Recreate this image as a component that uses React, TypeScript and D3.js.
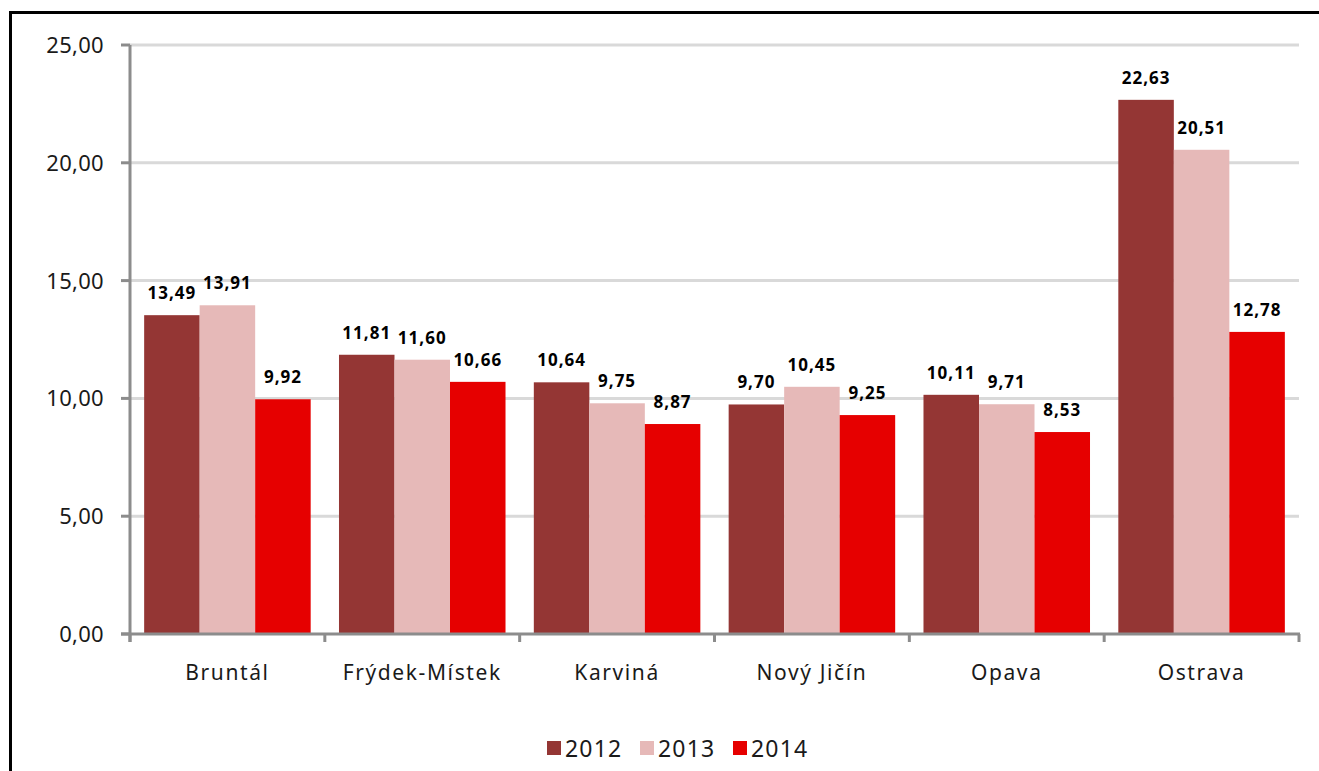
import React, { useEffect, useRef } from 'react';
import * as d3 from 'd3';

const categories = ['Bruntál', 'Frýdek-Místek', 'Karviná', 'Nový Jičín', 'Opava', 'Ostrava'];
const seriesNames = ['2012', '2013', '2014'];
const values2012 = [13.49, 11.81, 10.64, 9.7, 10.11, 22.63];
const values2013 = [13.91, 11.6, 9.75, 10.45, 9.71, 20.51];
const values2014 = [9.92, 10.66, 8.87, 9.25, 8.53, 12.78];
const yTicks = [0, 5, 10, 15, 20, 25];
const colors = ['#943634', '#e6b9b8', '#e60000'];

const fmt = (v: number) => v.toFixed(2).replace('.', ',');

function App() {
  const ref = useRef<SVGSVGElement>(null);

  useEffect(() => {
    const svg = d3.select(ref.current);
    svg.selectAll('*').remove();
    const W = 1319, H = 771;
    const font = "'Noto Sans', 'DejaVu Sans', sans-serif";
    const left = 130, right = 1299, top = 45, bottom = 634;
    const series = [values2012, values2013, values2014];

    // outer frame
    svg.append('rect')
      .attr('x', 10.5).attr('y', 12.5)
      .attr('width', W + 20).attr('height', H + 20)
      .attr('fill', 'none').attr('stroke', '#000').attr('stroke-width', 3);

    const x0 = d3.scaleBand().domain(categories).range([left, right]).padding(0);
    const x1 = d3.scaleBand().domain(seriesNames).range([0, x0.bandwidth()])
      .paddingInner(0).paddingOuter(0.255);
    const y = d3.scaleLinear().domain([0, 25]).range([bottom, top]);

    // grid
    svg.append('g').selectAll('line')
      .data(yTicks.filter(t => t > 0))
      .enter().append('line')
      .attr('x1', left).attr('x2', right)
      .attr('y1', d => y(d)).attr('y2', d => y(d))
      .attr('stroke', '#d9d9d9').attr('stroke-width', 3);

    // bars
    const groups = svg.append('g').selectAll('g')
      .data(categories)
      .enter().append('g')
      .attr('transform', d => `translate(${x0(d)},0)`);

    seriesNames.forEach((s, si) => {
      groups.append('rect')
        .attr('x', x1(s)!)
        .attr('width', x1.bandwidth())
        .attr('y', (d, i) => y(series[si][i]) - 1)
        .attr('height', (d, i) => bottom - y(series[si][i]) + 1)
        .attr('fill', colors[si]);
      groups.append('text')
        .attr('x', x1(s)! + x1.bandwidth() / 2)
        .attr('y', (d, i) => y(series[si][i]) - 17)
        .attr('text-anchor', 'middle')
        .attr('font-family', font)
        .attr('font-weight', 700)
        .attr('font-size', 17)
        .attr('letter-spacing', 1)
        .attr('fill', '#000')
        .text((d, i) => fmt(series[si][i]));
    });

    // axes
    const axisColor = '#8c8c8c';
    svg.append('line')
      .attr('x1', left).attr('x2', left).attr('y1', top).attr('y2', bottom + 8)
      .attr('stroke', axisColor).attr('stroke-width', 3);
    svg.append('line')
      .attr('x1', left - 9).attr('x2', right + 1).attr('y1', bottom).attr('y2', bottom)
      .attr('stroke', axisColor).attr('stroke-width', 3);
    svg.append('g').selectAll('line')
      .data(yTicks)
      .enter().append('line')
      .attr('x1', left - 9).attr('x2', left)
      .attr('y1', d => y(d)).attr('y2', d => y(d))
      .attr('stroke', axisColor).attr('stroke-width', 3);
    svg.append('g').selectAll('line')
      .data(d3.range(categories.length + 1))
      .enter().append('line')
      .attr('x1', i => left + i * x0.step()).attr('x2', i => left + i * x0.step())
      .attr('y1', bottom).attr('y2', bottom + 8)
      .attr('stroke', axisColor).attr('stroke-width', 3);

    // y labels
    svg.append('g').selectAll('text')
      .data(yTicks)
      .enter().append('text')
      .attr('x', 104).attr('y', d => y(d) + 8)
      .attr('text-anchor', 'end')
      .attr('font-family', font).attr('font-size', 22).attr('letter-spacing', 0.3)
      .attr('fill', '#1a1a1a')
      .text(d => fmt(d));

    // x labels
    svg.append('g').selectAll('text')
      .data(categories)
      .enter().append('text')
      .attr('x', d => x0(d)! + x0.bandwidth() / 2)
      .attr('y', 680)
      .attr('text-anchor', 'middle')
      .attr('font-family', font).attr('font-size', 21).attr('letter-spacing', 1.6)
      .attr('fill', '#1a1a1a')
      .text(d => d);

    // legend
    const legendX = [547, 640, 733];
    seriesNames.forEach((s, i) => {
      svg.append('rect')
        .attr('x', legendX[i]).attr('y', 741)
        .attr('width', 14).attr('height', 14)
        .attr('fill', colors[i]);
      svg.append('text')
        .attr('x', legendX[i] + 18).attr('y', 757)
        .attr('font-family', font).attr('font-size', 23).attr('letter-spacing', 1.2)
        .attr('fill', '#1a1a1a')
        .text(s);
    });
  }, []);

  return (
    <svg ref={ref} width={1319} height={771}
      style={{ position: 'absolute', left: 0, top: 0, background: '#fff' }} />
  );
}

export default App;
